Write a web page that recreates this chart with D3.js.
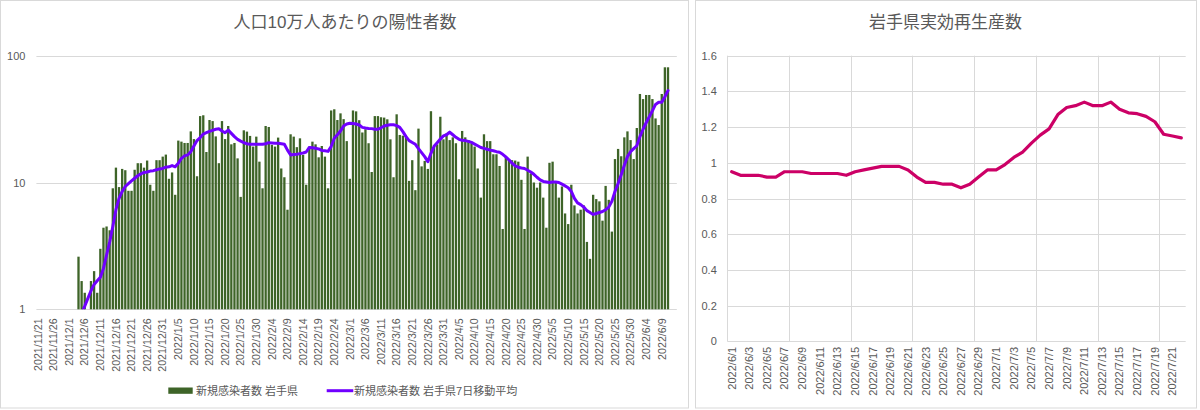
<!DOCTYPE html>
<html><head><meta charset="utf-8">
<script src="https://cdn.jsdelivr.net/npm/d3@7"></script>
<style>
html,body{margin:0;padding:0;background:#fff;}
svg{display:block;font-family:"Liberation Sans","Noto Sans CJK JP",sans-serif;}
</style></head><body>
<svg id="c" width="1200" height="410"></svg>
<script>
// ---------- data: left chart ----------
const leftTitle = "人口10万人あたりの陽性者数";
const startDate = new Date(2021, 10, 21);
const dayCount = 205;
const casesPer100k = [
 null,null,null,null,null,null,null,null,null,null,
 null,null,null,2.6,1.67,1.35,null,1.67,2.0,1.35,
 3.0,4.4,4.5,4.2,9.0,13.1,9.2,12.8,12.5,8.6,
 8.6,12.6,14.2,14.2,13.1,14.9,9.6,8.6,15.0,15.0,
 16.0,16.6,10.7,12.0,8.0,21.4,21.0,20.5,20.5,25.3,
 22.0,11.2,33.4,33.9,17.4,31.1,30.5,23.1,14.2,30.5,
 22.0,27.9,20.0,20.5,15.5,7.7,25.8,25.2,23.3,19.2,
 23.0,14.6,9.0,27.9,27.4,19.8,19.2,22.6,12.9,11.0,
 6.1,24.0,23.0,19.0,22.3,16.5,9.6,19.2,21.0,20.0,
 15.8,19.4,16.0,9.0,37.0,37.8,31.1,35.1,31.6,21.2,
 10.7,37.0,36.4,31.0,24.8,26.3,20.4,12.1,33.4,33.4,
 32.7,32.5,31.5,21.9,11.0,34.5,23.7,23.4,23.4,10.3,
 15.0,8.7,26.6,13.4,14.8,12.8,36.5,19.0,20.0,33.0,
 21.9,24.4,21.6,22.7,20.4,10.6,25.5,22.7,21.6,20.4,
 19.2,12.9,7.6,24.0,21.2,21.2,16.7,16.7,13.5,4.3,
 16.0,15.3,15.0,14.9,14.6,10.5,4.3,16.0,11.8,10.0,
 9.1,10.0,7.6,4.4,14.3,14.6,10.0,7.6,9.3,5.7,
 4.7,9.6,6.6,5.7,6.1,6.6,3.4,2.5,8.0,7.4,
 7.1,5.0,9.4,7.3,4.1,15.3,18.4,16.1,22.7,25.3,
 21.6,15.3,26.9,49.9,45.5,49.0,49.0,45.5,32.0,28.4,
 49.9,81.0,81.0,null,null
];
const movingAvg7 = [
 null,null,null,null,null,null,null,null,null,null,
 null,null,null,null,0.93,1.06,1.22,1.40,1.57,1.68,
 1.79,2.1,2.68,3.4,4.5,6.1,7.5,8.5,9.3,9.8,
 10.3,10.8,11.3,11.7,12.0,12.1,12.3,12.4,12.6,12.8,
 12.9,13.2,13.3,13.6,13.3,14.2,15.5,16.2,16.5,17.5,
 19.4,21.4,22.6,24.1,24.7,25.3,25.8,26.3,26.5,25.5,
 24.7,25.9,24.4,23.0,21.9,21.2,20.6,20.2,20.0,20.0,
 20.0,20.0,20.0,20.2,20.6,20.5,20.4,20.4,20.2,20.0,
 18.0,16.5,16.6,16.7,16.9,17.1,17.4,18.9,18.8,18.6,
 18.4,17.9,17.8,17.6,19.2,22.3,23.8,25.5,27.9,28.9,
 29.3,29.2,28.9,28.4,27.2,26.9,26.7,26.6,26.3,26.3,
 27.0,27.9,28.3,28.5,28.5,28.1,27.2,25.2,23.0,21.4,
 20.7,20.0,18.5,17.2,16.0,14.6,17.0,19.3,20.6,22.0,
 23.3,23.8,25.0,23.8,22.7,21.9,21.5,21.4,21.1,20.7,
 20.1,19.5,18.9,18.6,18.3,18.0,17.8,17.5,17.3,16.7,
 15.9,15.1,14.2,13.5,13.2,13.0,12.9,12.5,12.1,11.6,
 11.0,10.5,10.2,10.1,10.0,10.1,10.1,10.0,9.7,9.4,
 9.1,8.5,7.5,6.9,6.7,6.4,6.0,5.8,5.6,5.7,
 5.8,5.9,6.1,6.4,7.1,8.5,9.8,11.5,13.7,16.0,
 17.5,18.5,19.5,23.0,26.3,29.6,33.0,36.8,41.3,42.9,
 42.9,47.5,53.0,null,null
];
const logTicks = [1, 10, 100];
const legendBar = "新規感染者数 岩手県";
const legendLine = "新規感染者数 岩手県7日移動平均";

// ---------- data: right chart ----------
const rightTitle = "岩手県実効再生産数";
const rtStart = new Date(2022, 5, 1);
const rtCount = 52;
const rtValues = [
 0.95,0.93,0.93,0.93,0.92,0.92,0.95,0.95,0.95,0.94,
 0.94,0.94,0.94,0.93,0.95,0.96,0.97,0.98,0.98,0.98,
 0.96,0.92,0.89,0.89,0.88,0.88,0.86,0.88,0.92,0.96,
 0.96,0.99,1.03,1.06,1.11,1.155,1.19,1.27,1.31,1.32,
 1.34,1.32,1.32,1.34,1.30,1.28,1.275,1.26,1.23,1.16,
 1.15,1.14
];
const rtTicks = [0,0.2,0.4,0.6,0.8,1,1.2,1.4,1.6];

// ---------- helpers ----------
const fmt = d3.timeFormat("%Y/%-m/%-d");
const categories = d3.range(dayCount).map(i => fmt(d3.timeDay.offset(startDate, i)));
const rtCats = d3.range(rtCount).map(i => fmt(d3.timeDay.offset(rtStart, i)));
const TXT = "#595959", GRID = "#d9d9d9";

const svg = d3.select("#c");
svg.append("rect").attr("width",1200).attr("height",410).attr("fill","#fff");

// panel frames
svg.append("rect").attr("x",0.5).attr("y",0.5).attr("width",688).attr("height",407.5)
  .attr("fill","none").attr("stroke",GRID);
svg.append("rect").attr("x",695.5).attr("y",0.5).attr("width",501).attr("height",407.5)
  .attr("fill","none").attr("stroke",GRID);

// ================= LEFT CHART =================
const L = {x0:36.4, x1:675.8, y0:55.7, y1:309.3};
const x = d3.scaleBand().domain(categories).range([L.x0, L.x1]).paddingInner(0.26).paddingOuter(0.13);
const y = d3.scaleLog().domain([1,100]).range([L.y1, L.y0]);

svg.append("text").attr("x",345).attr("y",28).attr("text-anchor","middle")
  .attr("font-size",17).attr("fill",TXT).text(leftTitle);

// gridlines
svg.append("g").selectAll("line").data(logTicks).join("line")
  .attr("x1",L.x0).attr("x2",L.x1+1).attr("y1",d=>Math.round(y(d))+0.5).attr("y2",d=>Math.round(y(d))+0.5)
  .attr("stroke",GRID).attr("stroke-width",1);

// y axis labels
const ya = svg.append("g").attr("transform",`translate(${L.x0-11},0)`)
  .call(d3.axisLeft(y).tickValues(logTicks).tickFormat(d3.format("d")).tickSize(0));
ya.select(".domain").remove();
ya.selectAll("text").attr("font-size",11).attr("fill",TXT).attr("font-family",null).attr("x",0);

// bars
const barData = categories.map((c,i)=>({c, v:casesPer100k[i]})).filter(d=>d.v!=null && d.v>=1);
svg.append("g").selectAll("rect").data(barData).join("rect")
  .attr("x",d=>x(d.c)).attr("y",d=>y(d.v)).attr("width",x.bandwidth())
  .attr("height",d=>L.y1-y(d.v)).attr("fill","#3e6428");

// clip for line
svg.append("clipPath").attr("id","lclip").append("rect")
  .attr("x",L.x0).attr("y",L.y0-5).attr("width",L.x1-L.x0).attr("height",L.y1-L.y0+5);
const maData = categories.map((c,i)=>({c, v:movingAvg7[i]}));
svg.append("path").datum(maData).attr("clip-path","url(#lclip)")
  .attr("fill","none").attr("stroke","#7000ff").attr("stroke-width",3)
  .attr("stroke-linejoin","round").attr("stroke-linecap","round")
  .attr("d", d3.line().defined(d=>d.v!=null).x(d=>x(d.c)+x.bandwidth()/2).y(d=>y(d.v))(maData));

// x axis labels
const xa = svg.append("g").attr("transform",`translate(0,${L.y1+9})`)
  .call(d3.axisBottom(x).tickValues(categories.filter((c,i)=>i%5===0)).tickSize(0));
xa.select(".domain").remove();
xa.selectAll("text").attr("font-size",10.7).attr("fill",TXT).attr("font-family",null)
  .attr("transform","rotate(-90)").attr("text-anchor","end").attr("x",0).attr("y",0).attr("dy","0.35em");

// legend
svg.append("rect").attr("x",168.3).attr("y",387.5).attr("width",24.4).attr("height",6.3).attr("fill","#3e6428");
svg.append("text").attr("x",196).attr("y",394.5).attr("font-size",11).attr("fill",TXT).text(legendBar);
svg.append("line").attr("x1",326.7).attr("x2",353.3).attr("y1",390.7).attr("y2",390.7)
  .attr("stroke","#7000ff").attr("stroke-width",3);
svg.append("text").attr("x",354).attr("y",394.5).attr("font-size",11).attr("fill",TXT).text(legendLine);

// ================= RIGHT CHART =================
const R = {x0:727.3, x1:1185.7, y0:55.7, y1:341.3};
const x2 = d3.scaleBand().domain(rtCats).range([R.x0, R.x1]);
const y2 = d3.scaleLinear().domain([0,1.6]).range([R.y1, R.y0]);

svg.append("text").attr("x",945.5).attr("y",28).attr("text-anchor","middle")
  .attr("font-size",17).attr("fill",TXT).text(rightTitle);

svg.append("g").selectAll("line").data(rtTicks).join("line")
  .attr("x1",R.x0).attr("x2",R.x1).attr("y1",d=>Math.round(y2(d))+0.5).attr("y2",d=>Math.round(y2(d))+0.5)
  .attr("stroke",GRID);
svg.append("g").selectAll("line").data(rtCats.filter((c,i)=>i%7===0)).join("line")
  .attr("x1",d=>Math.round(x2(d))+0.5).attr("x2",d=>Math.round(x2(d))+0.5)
  .attr("y1",R.y0).attr("y2",R.y1).attr("stroke",GRID);

const ya2 = svg.append("g").attr("transform",`translate(${R.x0-10.5},0)`)
  .call(d3.axisLeft(y2).tickValues(rtTicks).tickFormat(d3.format("~g")).tickSize(0));
ya2.select(".domain").remove();
ya2.selectAll("text").attr("font-size",11).attr("fill",TXT).attr("font-family",null).attr("x",0);

const rtData = rtCats.map((c,i)=>({c, v:rtValues[i]}));
svg.append("path").datum(rtData).attr("fill","none").attr("stroke","#cc0066").attr("stroke-width",3.2)
  .attr("stroke-linejoin","round").attr("stroke-linecap","round")
  .attr("d", d3.line().x(d=>x2(d.c)+x2.bandwidth()/2).y(d=>y2(d.v))(rtData));

const xa2 = svg.append("g").attr("transform",`translate(0,${R.y1+5.5})`)
  .call(d3.axisBottom(x2).tickValues(rtCats.filter((c,i)=>i%2===0)).tickSize(0));
xa2.select(".domain").remove();
xa2.selectAll("text").attr("font-size",11).attr("fill",TXT).attr("font-family",null)
  .attr("transform","rotate(-90)").attr("text-anchor","end").attr("x",0).attr("y",0).attr("dy","0.35em");
</script>
</body></html>
